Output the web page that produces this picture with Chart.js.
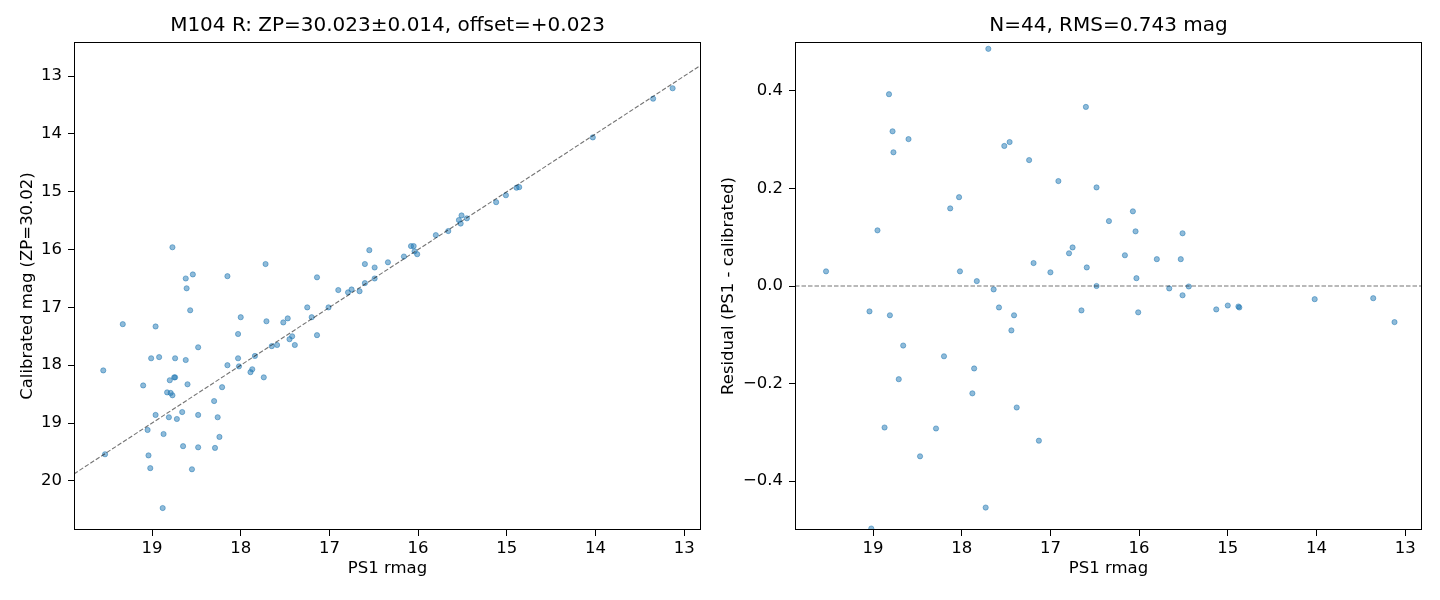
<!DOCTYPE html>
<html><head><meta charset="utf-8">
<script src="https://cdn.jsdelivr.net/npm/chart.js@4"></script>
<style>
html,body{margin:0;padding:0;background:#fff;overflow:hidden;}
.panel{position:absolute;top:0;width:720px;height:600px;}
</style></head><body>
<div class="panel" style="left:0"><canvas id="c1"></canvas></div>
<div class="panel" style="left:720px"><canvas id="c2"></canvas></div>
<script>
// ---- data ----
const leftTitle = "M104 R: ZP=30.023\u00b10.014, offset=+0.023";
const rightTitle = "N=44, RMS=0.743 mag";
const xLabel = "PS1 rmag";
const leftYLabel = "Calibrated mag (ZP=30.02)";
const rightYLabel = "Residual (PS1 - calibrated)";

const xTicks = [19, 18, 17, 16, 15, 14, 13];
const leftYTicks = [13, 14, 15, 16, 17, 18, 19, 20];
const rightYTicks = [-0.4, -0.2, 0.0, 0.2, 0.4];

const xMin = 12.81, xMax = 19.88;
const leftYMin = 12.41, leftYMax = 20.85;
const rightYMin = -0.5, rightYMax = 0.5;

const ps1Mag = [18.77,17.72,18.62,18.54,18.15,17.14,18.61,16.55,16.60,16.60,16.90,16.79,16.75,16.66,18.57,17.25,17.01,19.33,18.96,18.00,17.71,17.52,17.47,17.20,18.03,17.42,17.45,17.14,18.48,17.65,17.59,17.39,19.01,18.92,18.74,18.62,18.03,17.84,18.15,18.02,19.55,17.89,17.87,17.74,18.80,18.75,18.74,19.10,18.60,18.21,18.83,18.79,18.77,18.30,18.66,18.96,18.81,18.72,18.48,18.26,19.05,18.87,18.24,18.65,18.48,18.29,19.53,19.04,19.02,18.55,18.88,13.13,13.35,14.03,14.89,14.86,15.01,15.12,15.51,15.54,15.45,15.52,15.66,15.80,16.08,16.05,16.04,16.01,16.16,16.34,16.49,16.49];
const calMag = [15.96,16.25,16.50,16.43,16.46,16.48,16.67,16.01,16.25,16.58,16.70,16.74,16.69,16.72,17.05,17.00,17.00,17.29,17.33,17.17,17.24,17.26,17.19,17.17,17.46,17.50,17.55,17.48,17.69,17.67,17.65,17.65,17.88,17.86,17.88,17.91,17.88,17.84,18.00,18.02,18.09,18.12,18.07,18.21,18.26,18.21,18.21,18.35,18.33,18.38,18.47,18.48,18.52,18.62,18.81,18.86,18.90,18.93,18.86,18.90,19.12,19.19,19.24,19.40,19.42,19.43,19.54,19.56,19.78,19.80,20.47,13.21,13.39,14.06,14.93,14.92,15.06,15.18,15.41,15.49,15.46,15.55,15.68,15.75,15.94,15.94,16.03,16.08,16.12,16.22,16.31,16.50];

const resMag = [17.70,18.82,16.60,18.78,18.60,18.77,17.46,17.52,17.24,16.91,16.48,18.03,18.13,18.95,16.34,16.75,16.79,17.19,16.59,17.00,19.53,18.02,17.83,16.48,17.64,17.58,17.41,16.65,19.04,18.81,17.44,18.66,18.20,17.86,18.71,17.88,17.38,18.87,18.29,17.13,18.47,17.73,19.02,16.07,16.04,15.51,16.16,15.80,15.53,16.03,15.66,15.44,15.51,16.01,15.13,15.00,14.88,14.87,14.02,13.36,13.12];
const residual = [0.486,0.393,0.367,0.317,0.301,0.274,0.295,0.287,0.258,0.215,0.202,0.182,0.159,0.114,0.133,0.079,0.067,0.047,0.038,0.028,0.030,0.030,0.010,0.000,-0.007,-0.044,-0.060,-0.050,-0.052,-0.060,-0.091,-0.122,-0.144,-0.169,-0.191,-0.220,-0.249,-0.290,-0.292,-0.317,-0.349,-0.454,-0.497,0.153,0.112,0.108,0.063,0.055,0.055,0.016,-0.005,-0.001,-0.019,-0.054,-0.048,-0.040,-0.042,-0.044,-0.027,-0.025,-0.074];

// ---- styling ----
Chart.defaults.font.family = "'DejaVu Sans', 'Liberation Sans', sans-serif";
Chart.defaults.color = '#000';

const ptFill = 'rgba(31,119,180,0.5)';
const ptEdge = 'rgba(31,119,180,0.5)';

const framePlugin = {
  id: 'frame',
  afterDraw(chart, args, opts) {
    const {ctx, chartArea: a} = chart;
    ctx.save();
    ctx.strokeStyle = '#000';
    ctx.lineWidth = 1;
    ctx.strokeRect(Math.round(a.left) + 0.5, Math.round(a.top) + 0.5,
                   Math.round(a.right - a.left) - 1, Math.round(a.bottom - a.top) - 1);
    ctx.fillStyle = '#000';
    ctx.font = "20px 'DejaVu Sans'";
    ctx.textAlign = 'center';
    ctx.textBaseline = 'middle';
    ctx.fillText(opts.text, (a.left + a.right) / 2, opts.y);
    ctx.restore();
  }
};

function xScale() {
  return {
    type: 'linear', reverse: true, min: xMin, max: xMax,
    afterBuildTicks: s => { s.ticks = xTicks.map(v => ({value: v})); },
    afterFit: s => { s.height = 70; },
    ticks: { font: {size: 16.5}, padding: 3, maxRotation: 0, autoSkip: false, callback: v => String(v) },
    grid: { display: true, drawOnChartArea: false, drawTicks: true, tickLength: 6, color: '#000', lineWidth: 1 },
    border: { display: false },
    title: { display: true, text: xLabel, font: {size: 16.5, lineHeight: 1}, padding: {top: 0, bottom: 23} }
  };
}

function yScale(opts) {
  return {
    type: 'linear', reverse: opts.reverse, min: opts.min, max: opts.max,
    afterBuildTicks: s => { s.ticks = opts.ticks.map(v => ({value: v})); },
    afterFit: s => { s.width = opts.width; },
    ticks: { font: {size: 16.5}, padding: 6, autoSkip: false, callback: opts.fmt },
    grid: { display: true, drawOnChartArea: false, drawTicks: true, tickLength: 6, color: '#000', lineWidth: 1 },
    border: { display: false },
    title: { display: true, text: opts.label, font: {size: 16.5, lineHeight: 1}, padding: {top: opts.titlePad, bottom: 0} }
  };
}

function baseOptions(padRight, scales, title) {
  return {
    responsive: true, maintainAspectRatio: false, animation: false,
    layout: { padding: { top: 42, left: 0, right: padRight, bottom: 0 } },
    plugins: { legend: { display: false }, tooltip: { enabled: false }, title: { display: false },
               frame: { text: title, y: 25.5 } },
    scales: scales
  };
}

// ---- left chart ----
new Chart(document.getElementById('c1'), {
  type: 'scatter',
  data: {
    datasets: [
      { type: 'line', data: [{x: xMax, y: xMax}, {x: xMin, y: xMin}], borderColor: 'rgba(0,0,0,0.55)',
        borderWidth: 1.1, borderDash: [4.5, 2], pointRadius: 0, fill: false, order: 0 },
      { data: ps1Mag.map((x, i) => ({x: x, y: calMag[i]})), backgroundColor: ptFill, borderColor: ptEdge,
        borderWidth: 1, pointRadius: 2.6, order: 1 }
    ]
  },
  options: baseOptions(19, {
    x: xScale(),
    y: yScale({ reverse: true, min: leftYMin, max: leftYMax, ticks: leftYTicks, width: 74, label: leftYLabel,
                titlePad: 19, fmt: v => String(v) })
  }, leftTitle),
  plugins: [framePlugin]
});

// ---- right chart ----
new Chart(document.getElementById('c2'), {
  type: 'scatter',
  data: {
    datasets: [
      { type: 'line', data: [{x: xMax, y: 0}, {x: xMin, y: 0}], borderColor: 'rgba(0,0,0,0.55)',
        borderWidth: 1.1, borderDash: [4.5, 2], pointRadius: 0, fill: false, order: 0 },
      { data: resMag.map((x, i) => ({x: x, y: residual[i]})), backgroundColor: ptFill, borderColor: ptEdge,
        borderWidth: 1, pointRadius: 2.6, order: 1 }
    ]
  },
  options: baseOptions(18, {
    x: xScale(),
    y: yScale({ reverse: false, min: rightYMin, max: rightYMax, ticks: rightYTicks, width: 75, label: rightYLabel,
                titlePad: 0.5, fmt: v => (v < 0 ? '\u2212' : '') + Math.abs(v).toFixed(1) })
  }, rightTitle),
  plugins: [framePlugin]
});
</script>
</body></html>
